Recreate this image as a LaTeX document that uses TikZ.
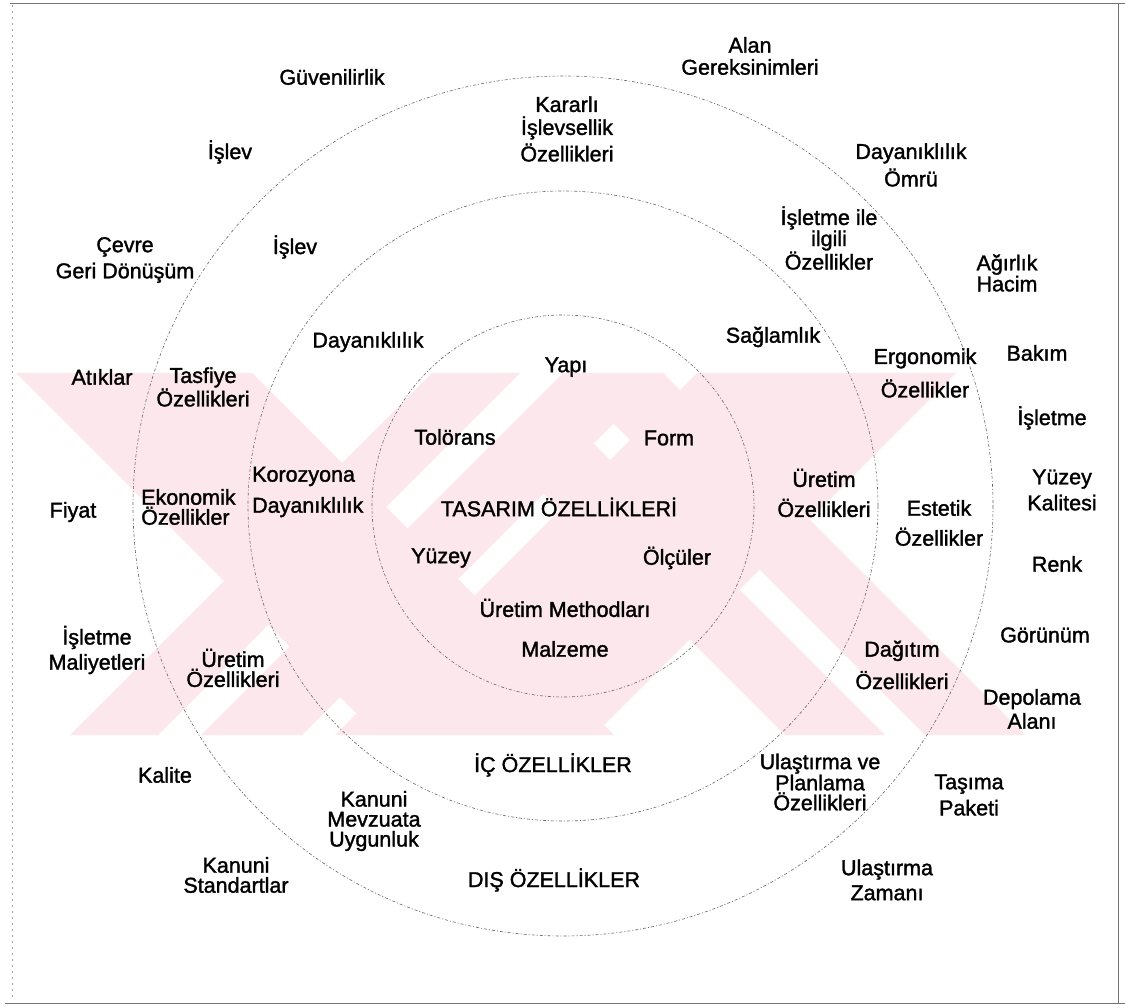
\documentclass[tikz,border=0pt]{standalone}
\usepackage{fontspec}
\setmainfont{Liberation Sans}[FakeBold=1.5]
\definecolor{wmpink}{RGB}{252,231,236}
\begin{document}
\begin{tikzpicture}[x=1pt,y=-1pt,
  lbl/.style={inner sep=0pt, align=center, font=\fontsize{21.5}{20}\selectfont},
  ring/.style={draw=black!60, line width=0.6pt, dash pattern=on 3pt off 2pt on 1pt off 2pt},
  frameline/.style={draw=black!55, line width=0.8pt},
  wm/.style={fill=wmpink, draw=none}]
\useasboundingbox (0,0) rectangle (1125,1008);
\fill[white] (0,0) rectangle (1125,1008);
% watermark
\begin{scope}
\clip (16,373) rectangle (1100,735);
\fill[wm] (16,373) -- (252,373) -- (614,735) -- (378,735) -- cycle;
\fill[wm] (432,373) -- (520,373) -- (158,735) -- (70,735) -- cycle;
\fill[wm] (563,373) -- (664,373) -- (302,735) -- (201,735) -- cycle;
\fill[wm] (697,373) -- (956,373) -- (594,735) -- (335,735) -- cycle;
\begin{scope}
\clip (664,373) -- (1100,373) -- (1100,735) -- (302,735) -- cycle;
\fill[wm] (423,373) -- (523,373) -- (885,735) -- (785,735) -- cycle;
\fill[wm] (563,373) -- (663,373) -- (1025,735) -- (925,735) -- cycle;
\end{scope}
\end{scope}
% page frame
\draw[frameline] (10,3) -- (1125,3);
\draw[frameline] (1118,3) -- (1118,1003);
\draw[frameline] (5,1003) -- (1125,1003);
\draw[draw=black!35, line width=0.6pt, dash pattern=on 2pt off 4pt] (12,5) -- (12,1000);
% rings
\coordinate (c) at (563,506);
\draw[ring] (c) circle[radius=191];
\draw[ring] (c) circle[radius=315];
\draw[ring] (c) circle[radius=430];
% labels
\node[lbl] (alan) at (750,56) {Alan\\[2pt]Gereksinimleri};
\node[lbl] (guven) at (332,77) {Güvenilirlik};
\node[lbl] (kararli) at (567,129) {Kararlı\\[3pt]İşlevsellik\\[3pt]Özellikleri};
\node[lbl] (dayomru) at (911,165) {Dayanıklılık\\[4pt]Ömrü};
\node[lbl] (islevA) at (230,152) {İşlev};
\node[lbl] (isletmeile) at (829,238) {İşletme ile\\ilgili\\Özellikler};
\node[lbl] (agirlik) at (1007,273) {Ağırlık\\Hacim};
\node[lbl] (cevre) at (125,260) {Çevre\\[5pt]Geri Dönüşüm};
\node[lbl] (islevB) at (295,247) {İşlev};
\node[lbl] (dayan) at (368,342) {Dayanıklılık};
\node[lbl] (saglam) at (773,337) {Sağlamlık};
\node[lbl] (yapi) at (566,367) {Yapı};
\node[lbl] (ergo) at (925,373) {Ergonomik\\[10pt]Özellikler};
\node[lbl] (bakim) at (1037,353) {Bakım};
\node[lbl] (atik) at (102,377) {Atıklar};
\node[lbl] (tasfiye) at (203,387) {Tasfiye\\Özellikleri};
\node[lbl] (tolo) at (455,437) {Tolörans};
\node[lbl] (form) at (669,438) {Form};
\node[lbl] (isletme) at (1052,418) {İşletme};
\node[lbl, align=left, anchor=west] (koroz) at (252,492) {Korozyona\\[10pt]Dayanıklılık};
\node[lbl, align=left, anchor=west] (ekon) at (141,507) {Ekonomik\\Özellikler};
\node[lbl] (fiyat) at (73,512) {Fiyat};
\node[lbl] (tasarim) at (559,507) {TASARIM ÖZELLİKLERİ};
\node[lbl] (uretimR) at (824,493) {Üretim\\[10pt]Özellikleri};
\node[lbl] (estetik) at (939,523) {Estetik\\[10pt]Özellikler};
\node[lbl] (yuzeyk) at (1062,490) {Yüzey\\[5pt]Kalitesi};
\node[lbl] (yuzey) at (441,558) {Yüzey};
\node[lbl] (olcu) at (677,558) {Ölçüler};
\node[lbl] (renk) at (1057,564) {Renk};
\node[lbl] (uretimM) at (565,608) {Üretim Methodları};
\node[lbl] (gorunum) at (1045,635) {Görünüm};
\node[lbl] (malz) at (565,649) {Malzeme};
\node[lbl] (isletmeM) at (97,650) {İşletme\\[4pt]Maliyetleri};
\node[lbl] (uretimL) at (233,668) {Üretim\\Özellikleri};
\node[lbl] (dagitim) at (902,665) {Dağıtım\\[9pt]Özellikleri};
\node[lbl] (depolama) at (1032,709) {Depolama\\[3pt]Alanı};
\node[lbl] (ic) at (553,765) {İÇ ÖZELLİKLER};
\node[lbl] (kalite) at (165,775) {Kalite};
\node[lbl] (ulasplan) at (820,782) {Ulaştırma ve\\Planlama\\Özellikleri};
\node[lbl] (tasima) at (969,795) {Taşıma\\[5pt]Paketi};
\node[lbl] (kanuniM) at (374,821) {Kanuni\\Mevzuata\\Uygunluk};
\node[lbl] (kanuniS) at (236,875) {Kanuni\\Standartlar};
\node[lbl] (dis) at (554,880) {DIŞ ÖZELLİKLER};
\node[lbl] (ulaszaman) at (887,880) {Ulaştırma\\[5pt]Zamanı};
\end{tikzpicture}
\end{document}
